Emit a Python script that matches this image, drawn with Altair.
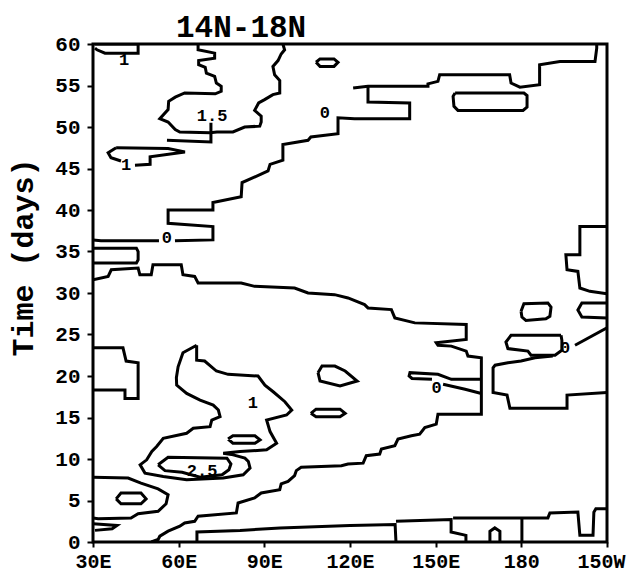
import altair as alt
import pandas as pd

# ---------------- axis ticks / labels ----------------
X_TICKS = [30, 60, 90, 120, 150, 180, 210]
X_LABELS = ["30E", "60E", "90E", "120E", "150E", "180", "150W"]
Y_TICKS = [0, 5, 10, 15, 20, 25, 30, 35, 40, 45, 50, 55, 60]

# ---------------- contour lines (longitude, day) ----------------
A = [(30.7, 60.0), (45.8, 60.0), (45.8, 58.9), (34.2, 58.9), (31.4, 59.3), (30.7, 59.5)]
B = [(66.8, 60.0), (66.8, 59.3), (72.6, 58.9), (72.6, 58.3), (67.0, 58.0), (67.0, 57.5),
     (69.3, 57.2), (69.7, 56.5), (72.6, 56.1), (73.2, 55.3), (74.9, 54.9), (74.9, 54.3),
     (72.8, 54.0), (62.1, 54.1), (58.8, 53.6), (56.5, 53.1), (56.3, 52.1), (53.4, 51.0),
     (56.3, 50.6), (58.8, 49.7), (60.4, 49.4), (71.0, 49.3), (73.4, 49.4), (79.0, 49.4),
     (83.1, 50.0), (88.4, 50.1), (88.9, 50.6), (88.9, 51.3), (86.6, 52.0), (88.0, 52.9),
     (90.1, 53.3), (93.0, 53.9), (95.4, 54.1), (95.4, 55.6), (93.6, 56.3), (93.0, 57.3),
     (94.8, 58.0), (95.9, 58.8), (97.1, 59.3), (96.5, 60.0)]
B_STEM = [(55.9, 48.4), (71.3, 48.2), (71.3, 50.5)]
C1 = [(38.1, 47.5), (56.3, 47.4), (62.2, 47.0), (50.0, 46.4), (50.0, 45.5), (44.7, 45.4)]
C2 = [(39.8, 45.9), (36.3, 46.3), (35.3, 46.9), (38.1, 47.5)]
TOP_OVAL = [(108.1, 57.8), (109.5, 58.2), (114.4, 58.2), (115.8, 57.8), (114.4, 57.3),
            (109.5, 57.3), (108.1, 57.8)]
D_TOP = [(206.4, 60.0), (206.4, 59.5), (205.8, 57.9), (193.5, 57.9), (186.4, 57.5),
         (186.4, 55.1), (179.5, 54.8), (176.4, 55.3), (175.9, 56.3), (151.4, 56.3),
         (150.8, 55.5), (147.3, 55.2), (147.3, 54.9), (126.3, 54.9), (121.1, 54.7)]
D_MAIN = [(126.3, 54.9), (126.3, 53.0), (140.9, 52.9), (140.9, 51.0), (121.6, 51.0),
          (115.8, 51.1), (115.8, 49.2), (106.3, 48.8), (105.3, 48.4), (96.5, 47.9),
          (96.5, 46.0), (92.0, 45.5), (91.3, 44.7), (82.2, 43.3), (81.9, 41.6), (72.0, 40.9),
          (72.0, 40.0), (56.3, 40.0), (56.3, 38.4), (72.0, 38.0), (72.0, 36.4), (58.7, 36.3)]
D_TAIL = [(53.1, 36.3), (32.8, 36.3), (30.0, 36.4)]
E = [(156.8, 54.1), (180.9, 54.1), (182.0, 53.8), (182.0, 52.4), (180.6, 52.0), (157.8, 52.0),
     (156.4, 52.5), (156.1, 53.7), (156.8, 54.1)]
K = [(30.0, 35.4), (45.2, 35.4), (45.8, 35.0), (45.8, 34.0), (45.2, 33.6), (30.0, 33.6)]
J = [(30.0, 31.6), (35.3, 32.0), (36.4, 32.8), (45.8, 33.0), (46.4, 32.2), (50.4, 32.2),
     (51.0, 33.4), (60.9, 33.4), (61.5, 32.2), (65.6, 32.0), (66.8, 31.2), (81.9, 31.2),
     (86.6, 30.8), (100.6, 30.6), (105.3, 30.0), (114.6, 29.8), (119.3, 29.4), (125.1, 28.6),
     (126.3, 28.2), (134.5, 28.0), (135.7, 27.0), (142.7, 26.4), (160.7, 26.2), (160.7, 24.4),
     (150.2, 24.0), (150.8, 23.7), (155.5, 23.6), (160.7, 23.0), (161.3, 22.4), (166.0, 22.2),
     (166.0, 15.4), (150.8, 15.4), (150.2, 14.2), (146.2, 13.8), (144.4, 13.0), (141.5, 12.8),
     (136.8, 12.4), (135.7, 11.6), (131.0, 11.2), (130.4, 10.6), (125.7, 10.4), (124.6, 9.5),
     (119.3, 9.4), (117.0, 9.2), (102.9, 9.0), (101.2, 8.6), (100.6, 8.0), (98.3, 7.3),
     (95.9, 7.0), (95.4, 6.3), (88.9, 5.9), (86.6, 5.3), (80.8, 4.7), (80.2, 3.5), (66.8, 3.1),
     (65.6, 2.5), (62.1, 2.3), (60.4, 1.9), (56.3, 1.3), (53.4, 0.7), (52.8, 0.3), (50.4, 0.0)]
L = [(30.0, 23.4), (40.5, 23.4), (41.6, 21.8), (45.8, 21.6), (45.8, 17.3), (41.2, 17.3),
     (41.2, 18.3), (30.0, 18.3)]
M = [(66.3, 23.7), (61.5, 22.8), (59.8, 21.1), (59.2, 19.8), (59.3, 18.9), (62.8, 17.9),
     (67.5, 17.1), (72.1, 16.5), (73.9, 15.9), (74.5, 15.1), (71.6, 14.7), (71.0, 13.9),
     (65.1, 13.7), (62.8, 13.1), (54.6, 12.5), (52.3, 11.5), (50.6, 10.9), (48.8, 9.9),
     (46.5, 9.3), (48.2, 8.3), (54.6, 7.9), (62.8, 7.5), (75.6, 7.7), (82.6, 8.1), (85.0, 8.9),
     (84.4, 9.7), (83.2, 10.1), (79.1, 10.5), (75.6, 10.7), (81.5, 10.9), (90.8, 11.1),
     (94.3, 11.9), (92.0, 13.3), (90.8, 14.7), (97.8, 15.3), (99.6, 15.9), (97.2, 16.9),
     (93.1, 18.1), (90.2, 18.9), (87.8, 20.0), (77.3, 20.2), (73.2, 20.6), (69.1, 21.8),
     (66.3, 21.9), (66.3, 23.7)]
M_IN = [(52.8, 9.3), (56.3, 10.2), (76.9, 10.1), (78.3, 9.4), (77.6, 8.7), (75.2, 8.1),
        (67.5, 7.8), (61.2, 8.4), (55.2, 8.6), (52.8, 9.3)]
S1 = [(77.3, 12.4), (79.0, 12.8), (86.7, 12.8), (88.5, 12.3), (86.7, 11.9), (79.0, 11.9),
      (77.3, 12.4)]
N1 = [(108.8, 20.4), (110.2, 21.2), (114.7, 21.2), (118.3, 20.6), (122.5, 19.4),
      (116.5, 18.8), (109.5, 19.4), (108.8, 20.4)]
N2 = [(106.3, 15.5), (108.1, 16.0), (116.5, 16.0), (118.3, 15.5), (116.5, 15.1),
      (108.1, 15.1), (106.3, 15.5)]
N3 = [(166.0, 19.6), (155.5, 19.6), (150.8, 20.2), (141.0, 20.4), (140.7, 20.0),
      (141.7, 19.7), (148.7, 19.6)]
N3B = [(152.6, 19.0), (160.3, 18.4), (166.0, 17.9)]
O = [(30.0, 7.8), (42.3, 7.7), (46.8, 7.1), (52.8, 6.4), (56.3, 5.7), (55.6, 4.6),
     (52.8, 3.7), (45.8, 3.4), (43.3, 2.9), (31.8, 2.8), (30.0, 2.9)]
O_IN = [(38.1, 5.2), (39.8, 5.9), (46.8, 5.9), (48.6, 5.2), (46.8, 4.6), (39.8, 4.6), (38.1, 5.2)]
O_BOT = [(30.0, 2.2), (38.4, 2.0), (36.7, 1.6), (30.7, 1.4)]
Q1 = [(66.4, 0.0), (66.4, 1.2), (81.5, 1.4), (95.5, 1.7), (120.0, 2.0), (135.8, 2.1), (136.1, 0.0)]
Q2 = [(136.1, 2.5), (155.4, 2.7), (155.4, 1.2), (160.6, 0.8), (160.6, 0.0)]
Q3 = [(156.1, 2.9), (189.3, 2.9), (190.0, 3.5), (199.8, 3.6), (200.5, 0.8), (205.1, 0.8),
      (205.4, 3.6), (206.1, 4.0), (210.0, 4.0)]
Q4 = [(180.2, 2.9), (180.2, 0.0)]
ARCH = [(169.0, 0.0), (169.0, 1.3), (170.7, 1.7), (172.5, 1.3), (172.5, 0.0)]
F = [(210.0, 38.0), (200.5, 38.0), (200.5, 34.6), (195.6, 34.6), (196.0, 32.8), (199.8, 32.6),
     (200.5, 30.6), (204.0, 30.2), (210.0, 29.9)]
G1 = [(179.9, 27.8), (180.9, 28.7), (189.3, 28.8), (190.4, 28.3), (190.0, 27.2), (188.6, 26.9),
      (181.6, 26.7), (180.2, 27.1), (179.9, 27.8)]
G2 = [(210.0, 28.8), (201.2, 28.8), (199.8, 27.95), (201.2, 27.1), (210.0, 27.0)]
H1 = [(193.9, 24.9), (176.4, 24.9), (174.6, 24.1), (175.3, 23.3), (182.3, 23.0), (183.4, 22.5),
      (191.8, 22.5), (194.2, 23.1), (194.2, 24.3), (193.9, 24.9)]
H2A = [(210.0, 25.8), (198.8, 23.7)]
H2B = [(191.0, 22.4), (184.8, 22.2), (179.9, 21.8), (175.3, 21.6), (170.8, 21.3), (170.1, 21.0),
       (170.1, 18.0), (175.0, 17.7), (176.0, 16.1), (196.0, 16.1), (196.0, 17.7), (210.0, 18.0)]

CONTOURS = {
    "A": A, "B": B, "B_STEM": B_STEM, "C1": C1, "C2": C2, "TOP_OVAL": TOP_OVAL,
    "D_TOP": D_TOP, "D_MAIN": D_MAIN, "D_TAIL": D_TAIL, "E": E, "K": K, "J": J, "L": L,
    "M": M, "M_IN": M_IN, "S1": S1, "N1": N1, "N2": N2, "N3": N3, "N3B": N3B,
    "O": O, "O_IN": O_IN, "O_BOT": O_BOT, "Q1": Q1, "Q2": Q2, "Q3": Q3, "Q4": Q4,
    "ARCH": ARCH, "F": F, "G1": G1, "G2": G2, "H1": H1, "H2A": H2A, "H2B": H2B,
}

# ---------------- contour labels ----------------
LBL_TEXT = ["1", "1", "1.5", "0", "0", "1", "2.5", "0", "0"]
LBL_LON = [40.9, 41.6, 71.7, 111.2, 55.9, 86.0, 68.2, 150.3, 195.3]
LBL_DAY = [58.1, 45.4, 51.3, 51.7, 36.6, 16.7, 8.6, 18.6, 23.4]

rows = []
for name, pts in CONTOURS.items():
    for i, (lo, d) in enumerate(pts):
        rows.append({"seg": name, "ord": i, "lon": lo, "day": d})
df = pd.DataFrame(rows)
lab = pd.DataFrame({"txt": LBL_TEXT, "lon": LBL_LON, "day": LBL_DAY})

FONT = "Liberation Mono"
label_expr = "[" + ",".join("'%s'" % s for s in X_LABELS) + "][round((datum.value - 30) / 30)]"

x_enc = alt.X("lon:Q", scale=alt.Scale(domain=[30, 210], nice=False, zero=False),
              axis=alt.Axis(values=X_TICKS, labelExpr=label_expr, title=None, grid=False,
                            domain=False, tickSize=5, tickWidth=2, tickColor="black",
                            labelFont=FONT, labelFontWeight="bold", labelFontSize=20,
                            labelColor="black", labelPadding=4, labelFlush=False,
                            labelOffset=alt.condition("datum.value == 210",
                                                      alt.value(-6), alt.value(0))))
y_enc = alt.Y("day:Q", scale=alt.Scale(domain=[0, 60], nice=False, zero=False),
              axis=alt.Axis(values=Y_TICKS, title="Time (days)", grid=False, domain=False,
                            tickSize=6, tickWidth=2, tickColor="black",
                            labelFont=FONT, labelFontWeight="bold", labelFontSize=21,
                            labelColor="black", labelPadding=7,
                            titleFont=FONT, titleFontWeight="bold", titleFontSize=30,
                            titleColor="black", titleAngle=270, titleX=-70, titleY=213,
                            titleAlign="center", titleBaseline="middle"))

lines = alt.Chart(df).mark_line(color="black", strokeWidth=3, clip=True,
                                strokeJoin="miter").encode(
    x=x_enc, y=y_enc, detail="seg:N", order="ord:Q")

texts = alt.Chart(lab).mark_text(font=FONT, fontWeight="bold", fontSize=17,
                                 color="black").encode(x=x_enc, y=y_enc, text="txt:N")

chart = alt.layer(lines, texts).properties(
    width=514, height=498,
    background="white",
    title=alt.TitleParams("14N-18N", anchor="start", dx=168, dy=17, offset=6,
                          font=FONT, fontSize=31, fontWeight="bold", color="black"),
    padding={"left": 85, "top": 36, "right": 21, "bottom": 33},
    autosize=alt.AutoSizeParams(type="none"),
).configure_view(stroke="black", strokeWidth=3)

chart.save("out.html", embed_options={"renderer": "svg", "actions": False})
